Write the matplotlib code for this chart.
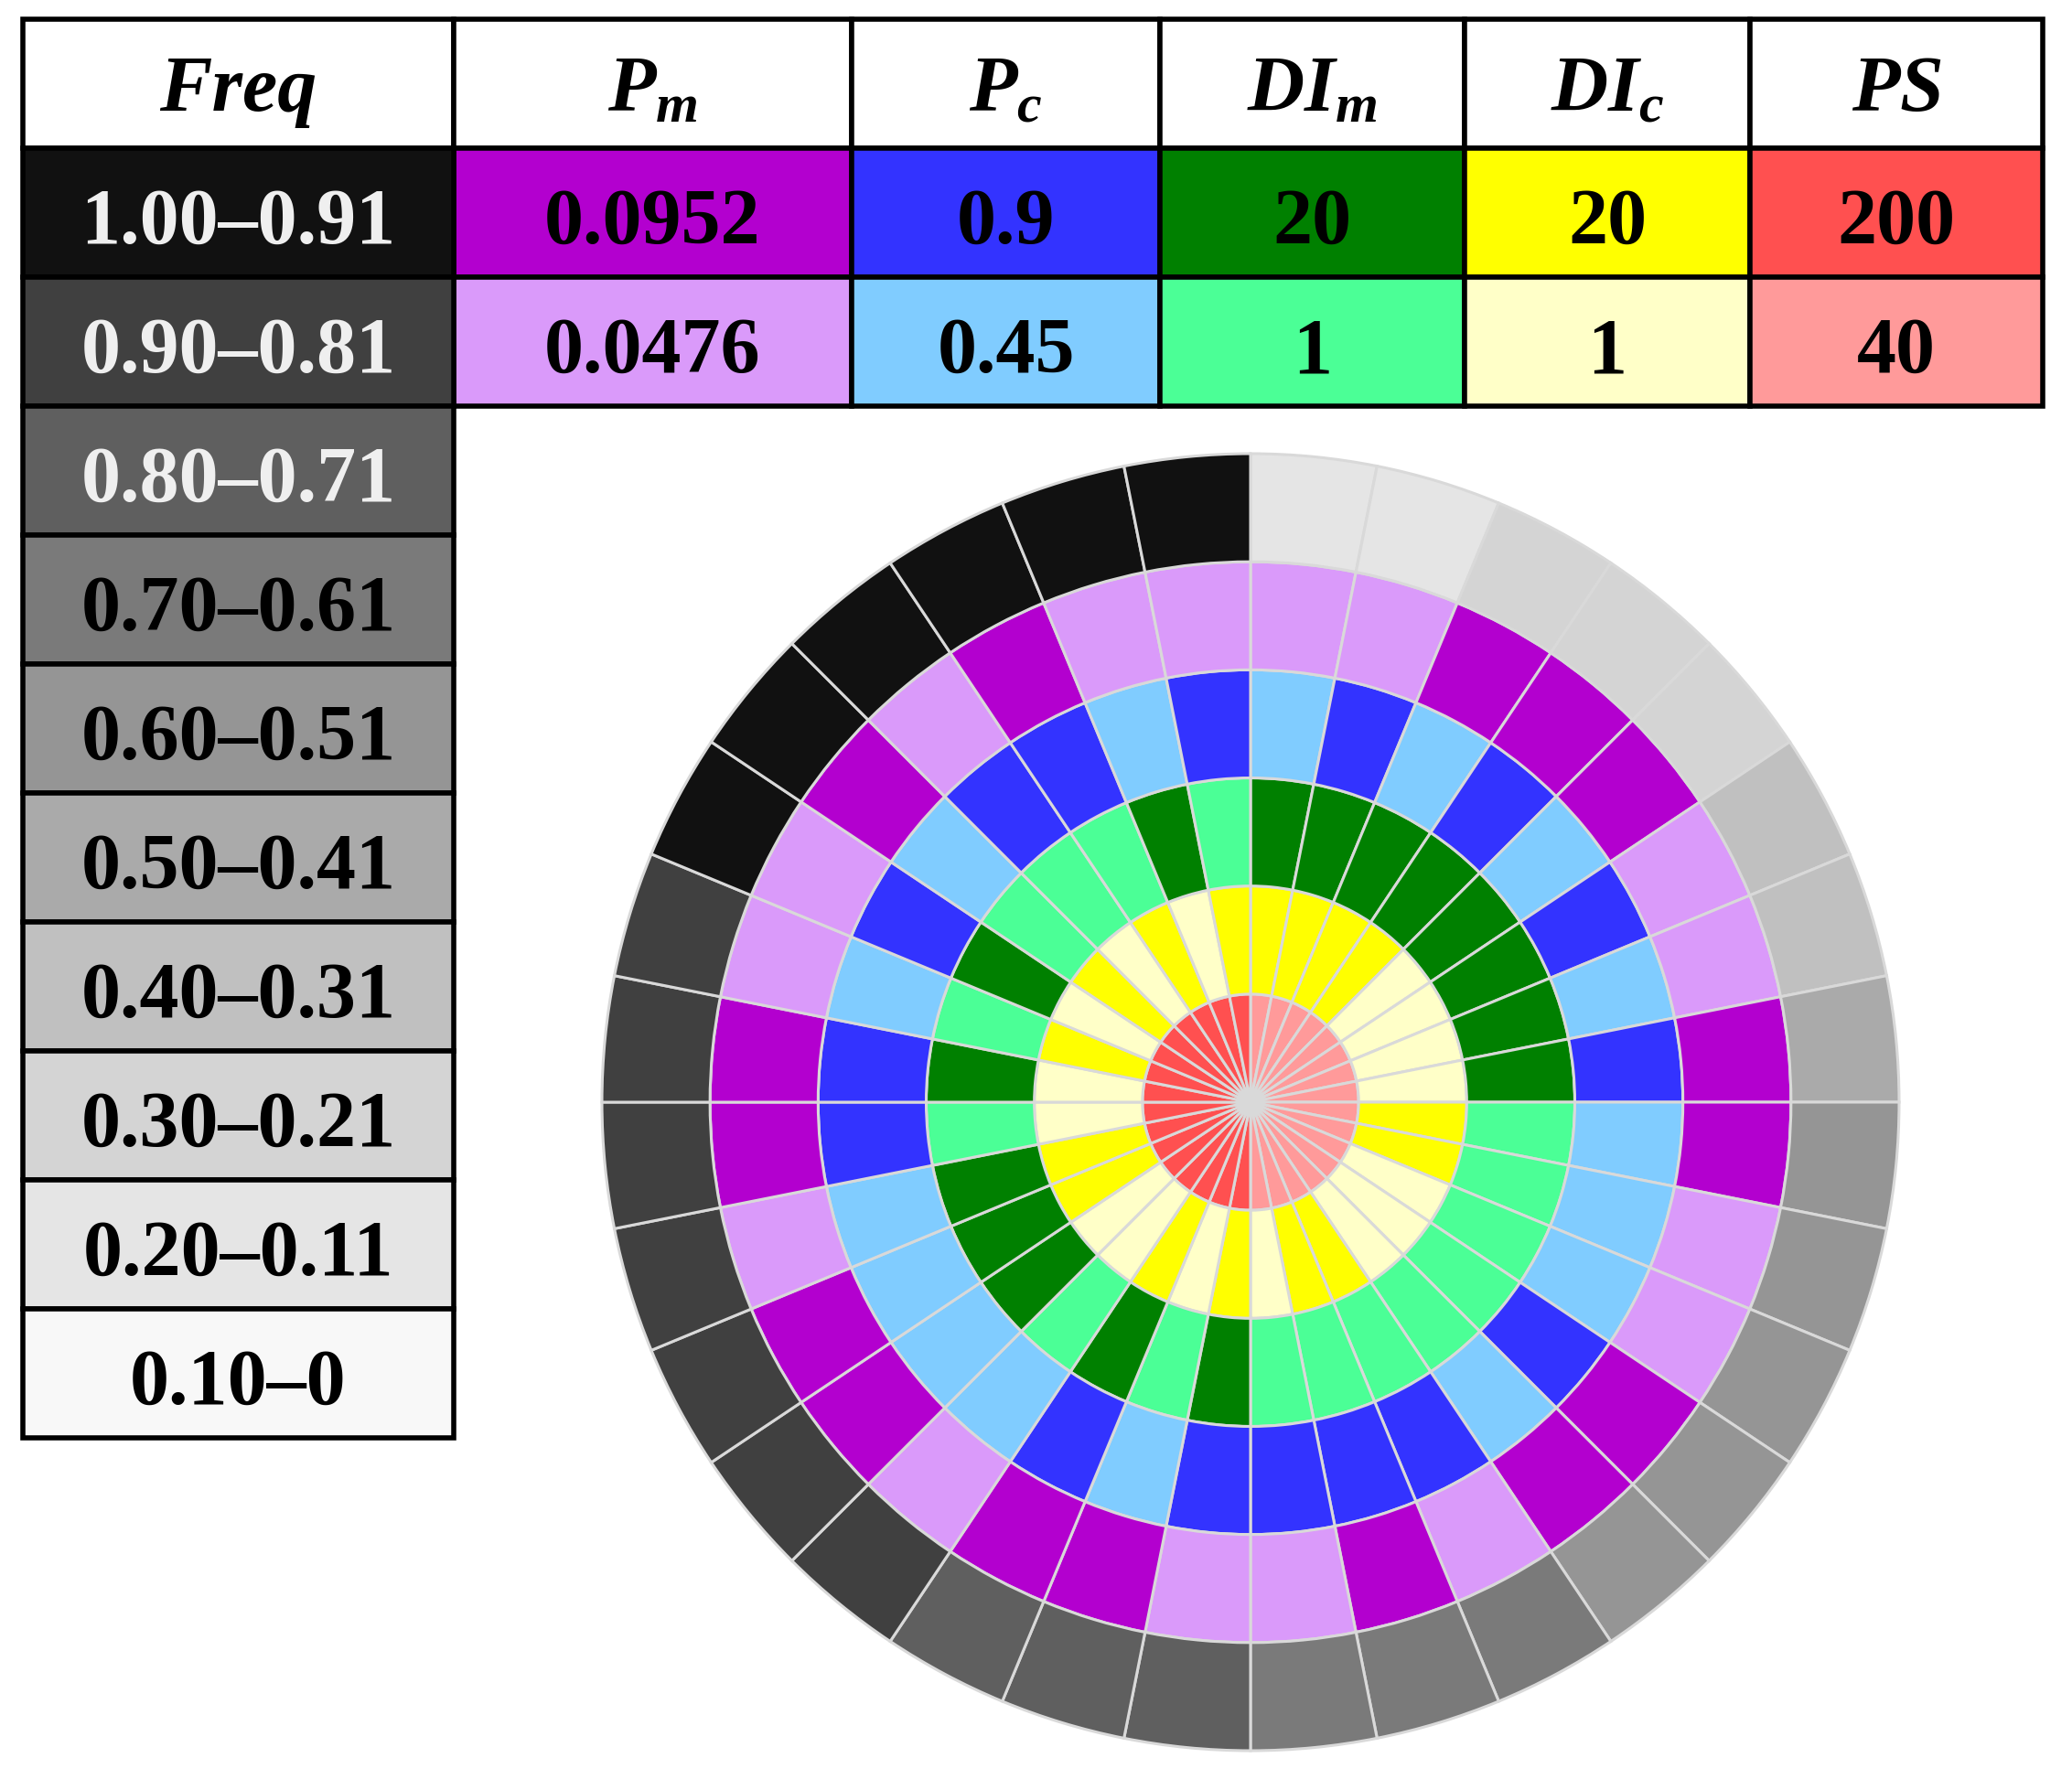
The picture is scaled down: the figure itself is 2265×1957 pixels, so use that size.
import numpy as np
import matplotlib.pyplot as plt
from matplotlib.patches import Rectangle

plt.rcParams['font.family'] = ['Liberation Serif', 'DejaVu Serif']
plt.rcParams['mathtext.fontset'] = 'custom'
plt.rcParams['mathtext.it'] = 'Liberation Serif:italic:bold'
plt.rcParams['mathtext.rm'] = 'Liberation Serif:bold'

# table: header + the two factor levels
headers = [r'$P_m$', r'$P_c$', r'$DI_m$', r'$DI_c$', r'$PS$']
high_vals = ['0.0952', '0.9', '20', '20', '200']
low_vals = ['0.0476', '0.45', '1', '1', '40']
high_cols = ['#b300cf', '#3333ff', '#008000', '#ffff00', '#ff5050']
low_cols = ['#da9afa', '#80ccff', '#4bff96', '#ffffc8', '#ff9a9a']

# frequency classes (legend column)
freq_bins = ['1.00–0.91', '0.90–0.81', '0.80–0.71', '0.70–0.61', '0.60–0.51',
             '0.50–0.41', '0.40–0.31', '0.30–0.21', '0.20–0.11', '0.10–0']
freq_cols = ['#111111', '#404040', '#5f5f5f', '#7a7a7a', '#959595',
             '#aaaaaa', '#c0c0c0', '#d4d4d4', '#e5e5e5', '#f8f8f8']
freq_txt = ['#efefef', '#efefef', '#efefef', 'black', 'black',
            'black', 'black', 'black', 'black', 'black']

# 32 configurations, clockwise from 12 o'clock (1 = high level, 0 = low level)
PS = [0, 0, 0, 0, 0, 0, 0, 0, 0, 0, 0, 0, 0, 0, 0, 0,
      1, 1, 1, 1, 1, 1, 1, 1, 1, 1, 1, 1, 1, 1, 1, 1]
DIc = [1, 1, 1, 1, 0, 0, 0, 0, 1, 1, 0, 0, 0, 1, 1, 0,
       1, 0, 1, 0, 0, 1, 1, 0, 0, 1, 0, 1, 0, 1, 0, 1]
DIm = [1, 1, 1, 1, 1, 1, 1, 1, 0, 0, 0, 0, 0, 0, 0, 0,
       1, 0, 1, 0, 1, 1, 1, 0, 1, 0, 1, 0, 0, 0, 1, 0]
Pc = [0, 1, 0, 1, 0, 1, 0, 1, 0, 0, 0, 1, 0, 1, 1, 1,
      1, 0, 1, 0, 0, 0, 0, 1, 1, 0, 1, 0, 1, 1, 0, 1]
Pm = [0, 0, 1, 1, 1, 0, 0, 1, 1, 0, 0, 1, 1, 0, 1, 0,
      0, 1, 1, 0, 1, 1, 0, 1, 1, 0, 0, 1, 0, 1, 0, 0]
# frequency class of each configuration (index into freq_bins)
freq = [8, 8, 7, 7, 7, 6, 6, 5, 4, 4, 4, 4, 4, 3, 3, 3,
        2, 2, 2, 1, 1, 1, 1, 1, 1, 1, 0, 0, 0, 0, 0, 0]

W, H = 2265, 1958
fig = plt.figure(figsize=(W / 100, H / 100), dpi=100)

# ---- table / legend ----
ax_t = fig.add_axes([0, 0, 1, 1])
ax_t.set_xlim(0, W)
ax_t.set_ylim(H, 0)
ax_t.axis('off')

col_edges = [25, 496, 931, 1268, 1601, 1913, 2233]
top, rh = 22, 141
fs = 62


def cell(c, r, face, txt, tcol='black', dy=12, **kw):
    x0, x1 = col_edges[c], col_edges[c + 1]
    y0 = top + r * rh
    ax_t.add_patch(Rectangle((x0, y0), x1 - x0, rh, facecolor=face,
                             edgecolor='black', lw=4, zorder=1))
    ax_t.text((x0 + x1) / 2, y0 + rh / 2 + dy, txt, color=tcol, ha='center',
              va='center', fontsize=fs, fontweight='bold', zorder=2, **kw)


cell(0, 0, 'white', 'Freq', dy=8, style='italic')
for j, h in enumerate(headers):
    cell(j + 1, 0, 'white', h, dy=8)
    cell(j + 1, 1, high_cols[j], high_vals[j])
    cell(j + 1, 2, low_cols[j], low_vals[j])
for k, lab in enumerate(freq_bins):
    cell(0, k + 1, freq_cols[k], lab, tcol=freq_txt[k])

# ---- sunburst ----
cx, cy, R = 1367, 1206, 709
ax = fig.add_axes([(cx - R) / W, (H - cy - R) / H, 2 * R / W, 2 * R / H],
                  projection='polar')
ax.set_theta_zero_location('N')
ax.set_theta_direction(-1)

n = len(PS)
theta = (np.arange(n) + 0.5) * 2 * np.pi / n
rings = [
    [high_cols[4] if v else low_cols[4] for v in PS],
    [high_cols[3] if v else low_cols[3] for v in DIc],
    [high_cols[2] if v else low_cols[2] for v in DIm],
    [high_cols[1] if v else low_cols[1] for v in Pc],
    [high_cols[0] if v else low_cols[0] for v in Pm],
    [freq_cols[f] for f in freq],
]
for i, cols in enumerate(rings):
    bars = ax.bar(theta, 1, width=2 * np.pi / n, bottom=i, color=cols,
                  edgecolor='#d9d9d9', linewidth=2.2, align='center')
    for b in bars:
        b.set_clip_on(False)

ax.set_ylim(0, 6)
ax.axis('off')

fig.savefig('out.png', dpi=100)
